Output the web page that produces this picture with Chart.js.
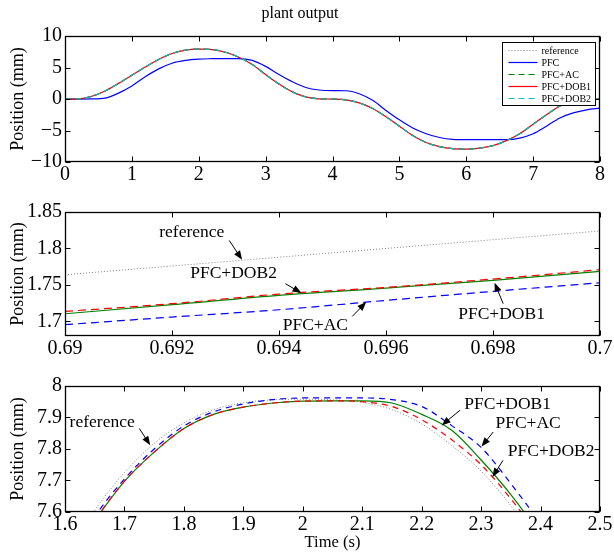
<!DOCTYPE html>
<html><head><meta charset="utf-8">
<script src="https://cdn.jsdelivr.net/npm/chart.js@4.4.1/dist/chart.umd.min.js"></script>
<style>
html,body{margin:0;padding:0;background:#fff;}
body{width:614px;height:554px;position:relative;overflow:hidden;}
canvas{position:absolute;left:0;}
</style></head><body>
<canvas id="c1" width="614" height="190" style="top:0px"></canvas>
<canvas id="c2" width="614" height="174" style="top:190px"></canvas>
<canvas id="c3" width="614" height="190" style="top:364px"></canvas>
<script>
// ---------- Panel 1: full run (0..8 s) ----------
const tFull = [0,0.2,0.4,0.6,0.8,1.0,1.2,1.4,1.6,1.8,2.0,2.2,2.4,2.6,2.8,3.0,3.2,3.4,3.6,3.8,4.0,
               4.2,4.4,4.6,4.8,5.0,5.2,5.4,5.6,5.8,6.0,6.2,6.4,6.6,6.8,7.0,7.2,7.4,7.6,7.8,8.0];
const refFull = [0,0.05,0.45,1.3,2.5,3.8,5.1,6.3,7.25,7.8,7.95,7.88,7.45,6.65,5.5,3.9,2.4,1.15,0.35,0.05,0,
                 -0.12,-0.6,-1.5,-2.8,-4.3,-5.8,-6.9,-7.55,-7.88,-7.95,-7.8,-7.4,-6.6,-5.5,-4.0,-2.5,-1.1,-0.3,-0.03,0];
const pfcFull = [0,0,0.02,0.15,0.95,2.1,3.55,4.8,5.7,6.15,6.35,6.42,6.45,6.45,6.15,5.2,3.9,2.75,1.85,1.45,1.35,
                 1.33,0.85,-0.2,-1.8,-3.3,-4.6,-5.5,-6.1,-6.4,-6.45,-6.45,-6.45,-6.45,-6.2,-5.5,-4.3,-3.0,-2.2,-1.7,-1.45];
// tracking controllers: indistinguishable from the reference at this scale
const acFull   = [...refFull];
const dob1Full = [...refFull];
const dob2Full = [...refFull];
const xTicks1 = [0,1,2,3,4,5,6,7,8];
const xLabels1 = ['0','1','2','3','4','5','6','7','8'];
const yTicks1 = [-10,-5,0,5,10];
const yLabels1 = ['\u221210','\u22125','0','5','10'];

// ---------- Panel 2: zoom 0.69..0.70 s ----------
const t2 = [0.69,0.692,0.694,0.696,0.698,0.70];
const ref2  = [1.764,1.776,1.788,1.800,1.812,1.824];
const ac2   = [1.6955,1.706,1.716,1.7288,1.7412,1.753];
const dob1_2 = [1.7105,1.7229,1.7357,1.7457,1.7563,1.7686];
const dob2_2 = [1.7137,1.7243,1.7375,1.7466,1.7581,1.7709];
const xTicks2 = [0.69,0.692,0.694,0.696,0.698,0.70];
const xLabels2 = ['0.69','0.692','0.694','0.696','0.698','0.7'];
const yTicks2 = [1.7,1.75,1.8,1.85];
const yLabels2 = ['1.7','1.75','1.8','1.85'];

// ---------- Panel 3: zoom 1.6..2.5 s ----------
const t3 = [1.6,1.65,1.7,1.75,1.8,1.85,1.9,1.95,2.0,2.05,2.1,2.15,2.2,2.25,2.3,2.35,2.4,2.45,2.5];
const ref3  = [7.45,7.605,7.725,7.818,7.883,7.925,7.947,7.956,7.958,7.956,7.948,7.925,7.88,7.812,7.73,7.62,7.49,7.34,7.17];
const ac3   = [7.43,7.585,7.705,7.80,7.873,7.918,7.943,7.957,7.962,7.962,7.962,7.957,7.935,7.875,7.805,7.69,7.56,7.40,7.22];
const dob1_3 = [7.43,7.572,7.697,7.79,7.865,7.91,7.933,7.946,7.952,7.953,7.953,7.946,7.91,7.86,7.765,7.655,7.525,7.37,7.2];
const dob2_3 = [7.432,7.574,7.698,7.79,7.865,7.91,7.933,7.946,7.952,7.953,7.95,7.935,7.893,7.83,7.75,7.642,7.515,7.37,7.2];
const xTicks3 = [1.6,1.7,1.8,1.9,2.0,2.1,2.2,2.3,2.4,2.5];
const xLabels3 = ['1.6','1.7','1.8','1.9','2','2.1','2.2','2.3','2.4','2.5'];
const yTicks3 = [7.6,7.7,7.8,7.9,8.0];
const yLabels3 = ['7.6','7.7','7.8','7.9','8'];

// ---------- styling / helpers ----------
const FONT = "'Liberation Serif','Times New Roman',serif";
const TICKSIZE = 20;

function labelFor(v, vals, labels){
  const i = vals.findIndex(t => Math.abs(t - v) < 1e-9);
  return i >= 0 ? labels[i] : '';
}
function axisX(min, max, vals, labels, h, title){
  return {
    type:'linear', position:'bottom', min, max,
    grid:{display:false, drawTicks:false}, border:{display:false},
    afterBuildTicks: s => { s.ticks = vals.map(v => ({value:v})); },
    afterFit: s => { s.height = h; },
    ticks:{font:{family:FONT,size:TICKSIZE}, color:'#000', padding:1, maxRotation:0, autoSkip:false,
           callback: v => labelFor(v, vals, labels)},
    title: title ? {display:true, text:title, color:'#000', font:{family:FONT,size:16.5}, padding:{top:0,bottom:1}} : {display:false}
  };
}
function axisY(min, max, vals, labels){
  return {
    type:'linear', position:'left', min, max,
    grid:{display:false, drawTicks:false}, border:{display:false},
    afterBuildTicks: s => { s.ticks = vals.map(v => ({value:v})); },
    afterFit: s => { s.width = 65; },
    ticks:{font:{family:FONT,size:TICKSIZE}, color:'#000', padding:3, autoSkip:false,
           callback: v => labelFor(v, vals, labels)},
    title:{display:true, text:'Position (mm)', color:'#000', font:{family:FONT,size:18}, padding:{top:7,bottom:0}}
  };
}
function ds(label, xs, ys, color, dash, width, order){
  return {label, data: xs.map((x,i)=>({x, y:ys[i]})), borderColor:color, backgroundColor:color,
          borderDash:dash, borderWidth:width, pointRadius:0, fill:false,
          cubicInterpolationMode:'monotone', order};
}

// frame + inward ticks (MATLAB style box)
const framePlugin = {
  id:'frame',
  afterDatasetsDraw(chart){
    const {ctx, chartArea:a, scales:{x,y}} = chart;
    ctx.save();
    ctx.strokeStyle = '#000'; ctx.lineWidth = 1.3;
    const L = Math.round(a.left)+0.5, R = Math.round(a.right)-0.5, T = Math.round(a.top)+0.5, B = Math.round(a.bottom)-0.5;
    ctx.strokeRect(L, T, R-L, B-T);
    ctx.lineWidth = 1;
    const len = 5;
    ctx.beginPath();
    x.ticks.forEach(t => { const p = Math.round(x.getPixelForValue(t.value))+0.5;
      ctx.moveTo(p,B); ctx.lineTo(p,B-len); ctx.moveTo(p,T); ctx.lineTo(p,T+len); });
    y.ticks.forEach(t => { const p = Math.round(y.getPixelForValue(t.value))+0.5;
      ctx.moveTo(L,p); ctx.lineTo(L+len,p); ctx.moveTo(R,p); ctx.lineTo(R-len,p); });
    ctx.stroke();
    ctx.restore();
  }
};

// annotations with arrows (positions in data units)
const arrowPlugin = {
  id:'arrows',
  afterDatasetsDraw(chart, args, opts){
    const items = opts.items || [];
    const {ctx, scales:{x,y}} = chart;
    ctx.save();
    ctx.fillStyle = '#000'; ctx.strokeStyle = '#000'; ctx.lineWidth = 1;
    ctx.font = (opts.size||17) + 'px ' + FONT;
    ctx.textAlign = 'center'; ctx.textBaseline = 'middle';
    items.forEach(it => {
      ctx.fillText(it.text, x.getPixelForValue(it.tx), y.getPixelForValue(it.ty));
      const x1 = x.getPixelForValue(it.x1), y1 = y.getPixelForValue(it.y1);
      const x2 = x.getPixelForValue(it.x2), y2 = y.getPixelForValue(it.y2);
      const ang = Math.atan2(y2-y1, x2-x1), hl = 9, hw = 3.5;
      ctx.beginPath(); ctx.moveTo(x1,y1); ctx.lineTo(x2 - Math.cos(ang)*hl*0.6, y2 - Math.sin(ang)*hl*0.6); ctx.stroke();
      ctx.beginPath();
      ctx.moveTo(x2,y2);
      ctx.lineTo(x2 - Math.cos(ang)*hl - Math.sin(ang)*hw, y2 - Math.sin(ang)*hl + Math.cos(ang)*hw);
      ctx.lineTo(x2 - Math.cos(ang)*hl + Math.sin(ang)*hw, y2 - Math.sin(ang)*hl - Math.cos(ang)*hw);
      ctx.closePath(); ctx.fill();
    });
    ctx.restore();
  }
};

// boxed legend inside the axes (top-right)
const boxLegendPlugin = {
  id:'boxLegend',
  afterDraw(chart, args, opts){
    if (!opts.display) return;
    const {ctx, chartArea:a} = chart;
    const w = 93, rowH = 12, h = chart.data.datasets.length*rowH + 3;
    const bx = Math.round(a.right - w - 5)+0.5, by = Math.round(a.top + 6)+0.5;
    ctx.save();
    ctx.fillStyle = '#fff'; ctx.fillRect(bx, by, w, h);
    ctx.strokeStyle = '#000'; ctx.lineWidth = 1; ctx.strokeRect(bx, by, w, h);
    ctx.font = '10px ' + FONT; ctx.textAlign = 'left'; ctx.textBaseline = 'middle';
    chart.data.datasets.forEach((d,i) => {
      const cy = by + 8 + i*rowH;
      ctx.strokeStyle = d.borderColor; ctx.lineWidth = d.borderWidth;
      ctx.setLineDash(d.borderDash || []);
      ctx.beginPath(); ctx.moveTo(bx+6, cy); ctx.lineTo(bx+35, cy); ctx.stroke();
      ctx.setLineDash([]);
      ctx.fillStyle = '#000'; ctx.fillText(d.label, bx+39, cy+0.5);
    });
    ctx.restore();
  }
};

function baseOptions(xs, ys, extra){
  return Object.assign({
    responsive:false, animation:false, events:[],
    layout:{padding:{left:0,right:14,top:22,bottom:0}},
    scales:{x:xs, y:ys},
    plugins:{legend:{display:false}, tooltip:{enabled:false}, title:{display:false}}
  }, extra||{});
}

const GRAY = '#808080', BLUE = '#0000ff', GREEN = '#008000', RED = '#ff0000', CYAN = '#00bfbf';

// Panel 1
const o1 = baseOptions(axisX(0,8,xTicks1,xLabels1,28,null), axisY(-10,10,yTicks1,yLabels1));
o1.layout = {padding:{left:0,right:14,top:0,bottom:0}};
o1.plugins.title = {display:true, text:'plant output', color:'#000', font:{family:FONT,size:16,weight:'normal'}, padding:{top:4,bottom:13}};
o1.plugins.boxLegend = {display:true};
new Chart(document.getElementById('c1'), {
  type:'line',
  data:{datasets:[
    ds('reference', tFull, refFull, GRAY, [1,2], 1, 5),
    ds('PFC', tFull, pfcFull, BLUE, [], 1.2, 4),
    ds('PFC+AC', tFull, acFull, GREEN, [6,4], 1.2, 3),
    ds('PFC+DOB1', tFull, dob1Full, RED, [], 1.2, 2),
    ds('PFC+DOB2', tFull, dob2Full, CYAN, [6,4], 1.2, 1)
  ]},
  options:o1,
  plugins:[framePlugin, boxLegendPlugin]
});

// Panel 2
const o2 = baseOptions(axisX(0.69,0.70,xTicks2,xLabels2,28,null), axisY(1.68,1.85,yTicks2,yLabels2));
o2.plugins.arrows = {size:17.5, items:[
  {text:'reference', tx:0.69237, ty:1.8226, x1:0.69307, y1:1.811, x2:0.69331, y2:1.7846},
  {text:'PFC+DOB2', tx:0.69315, ty:1.7663, x1:0.69412, y1:1.7517, x2:0.69442, y2:1.7389},
  {text:'PFC+AC', tx:0.69468, ty:1.6945, x1:0.69537, y1:1.7069, x2:0.69563, y2:1.7265},
  {text:'PFC+DOB1', tx:0.69816, ty:1.7092, x1:0.69819, y1:1.7243, x2:0.69803, y2:1.7531}
]};
new Chart(document.getElementById('c2'), {
  type:'line',
  data:{datasets:[
    ds('reference', t2, ref2, GRAY, [1,2], 1, 4),
    ds('PFC+AC', t2, ac2, BLUE, [8,5], 1.2, 3),
    ds('PFC+DOB1', t2, dob1_2, GREEN, [], 1.2, 2),
    ds('PFC+DOB2', t2, dob2_2, RED, [8,5], 1.2, 1)
  ]},
  options:o2,
  plugins:[framePlugin, arrowPlugin]
});

// Panel 3
const o3 = baseOptions(axisX(1.6,2.5,xTicks3,xLabels3,42,'Time (s)'), axisY(7.6,8.0,yTicks3,yLabels3));
o3.plugins.arrows = {size:17.5, items:[
  {text:'reference', tx:1.6625, ty:7.885, x1:1.725, y1:7.865, x2:1.7434, y2:7.812},
  {text:'PFC+DOB1', tx:2.3447, ty:7.94, x1:2.2645, y1:7.923, x2:2.2336, y2:7.875},
  {text:'PFC+AC', tx:2.379, ty:7.88, x1:2.3204, y1:7.854, x2:2.3007, y2:7.808},
  {text:'PFC+DOB2', tx:2.4178, ty:7.792, x1:2.3368, y1:7.764, x2:2.319, y2:7.711}
]};
new Chart(document.getElementById('c3'), {
  type:'line',
  data:{datasets:[
    ds('reference', t3, ref3, GRAY, [1,2], 1, 4),
    ds('PFC+AC', t3, ac3, BLUE, [6,5], 1.2, 3),
    ds('PFC+DOB1', t3, dob1_3, GREEN, [], 1.2, 2),
    ds('PFC+DOB2', t3, dob2_3, RED, [6,5], 1.2, 1)
  ]},
  options:o3,
  plugins:[framePlugin, arrowPlugin]
});
</script>
</body></html>
